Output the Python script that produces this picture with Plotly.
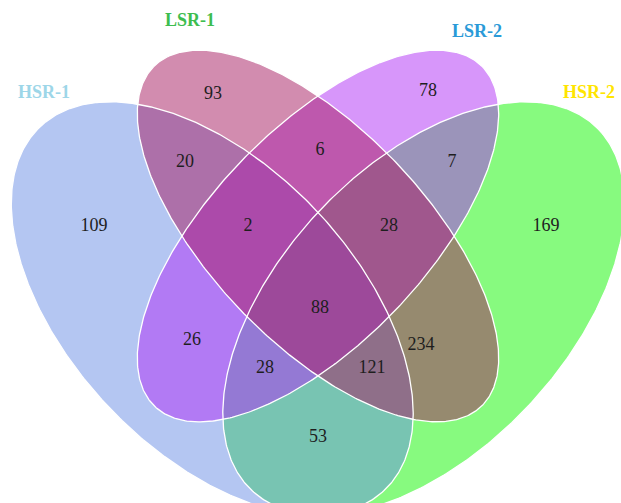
import numpy as np
import plotly.graph_objects as go

# Four sets and the size of every region of the Venn diagram
set_names = ["HSR-1", "LSR-1", "LSR-2", "HSR-2"]
region_keys = ["1000", "0100", "0010", "0001",
               "1100", "0110", "0011", "1010", "0101", "1001",
               "1110", "0111", "1011", "1101", "1111"]
region_counts = [109, 93, 78, 169,
                 20, 6, 7, 26, 234, 53,
                 2, 28, 28, 121, 88]

# ---- layout / styling ----
W, H = 621, 503
# classic four-ellipse layout in unit coordinates (y up): cx, cy, a, b, rotation
ellipse_unit = {
    "HSR-1": (0.35, 0.47, 0.35, 0.20, 135),
    "LSR-1": (0.50, 0.57, 0.33, 0.15, 135),
    "LSR-2": (0.50, 0.57, 0.33, 0.15, 45),
    "HSR-2": (0.65, 0.47, 0.35, 0.20, 45),
}
# unit square -> screen pixels
SX, SY = 705, 725
X_MID, Y_REF, Y_REF_UNIT = 318, 236, 0.57

fill_rgb = {
    "HSR-1": (105, 141, 229),
    "LSR-1": (165, 25, 95),
    "LSR-2": (175, 45, 245),
    "HSR-2": (15, 245, 0),
}
draw_order = ["HSR-2", "HSR-1", "LSR-2", "LSR-1"]
title_pos = {"HSR-1": (44, 93), "LSR-1": (190, 21), "LSR-2": (477, 32), "HSR-2": (589, 93)}
title_color = {"HSR-1": "#9dd6e8", "LSR-1": "#3dbd4f", "LSR-2": "#2a9ad8", "HSR-2": "#ffe500"}
count_pos = {
    "1000": (94, 226), "0100": (213, 94), "0010": (428, 91), "0001": (546, 226),
    "1100": (185, 162), "0110": (320, 150), "0011": (452, 162), "1010": (192, 340),
    "0101": (421, 345), "1001": (318, 437), "1110": (248, 226), "0111": (389, 226),
    "1011": (265, 368), "1101": (372, 368), "1111": (320, 308),
}


def ellipse_xy(cx, cy, a, b, deg, n=500):
    t = np.linspace(0, 2 * np.pi, n)
    th = np.deg2rad(deg)
    ux = cx + a * np.cos(th) * np.cos(t) - b * np.sin(th) * np.sin(t)
    uy = cy + a * np.sin(th) * np.cos(t) + b * np.cos(th) * np.sin(t)
    px = X_MID + SX * (ux - 0.5)
    py = Y_REF - SY * (uy - Y_REF_UNIT)
    return px, py


fig = go.Figure()

for name in draw_order:
    x, y = ellipse_xy(*ellipse_unit[name])
    r, g, b = fill_rgb[name]
    fig.add_trace(go.Scatter(x=x, y=y, mode="lines", fill="toself",
                             fillcolor=f"rgba({r},{g},{b},0.5)",
                             line=dict(width=0), hoverinfo="skip", showlegend=False))

for name in draw_order:
    x, y = ellipse_xy(*ellipse_unit[name])
    fig.add_trace(go.Scatter(x=x, y=y, mode="lines", line=dict(color="white", width=1.3),
                             hoverinfo="skip", showlegend=False))

fig.add_trace(go.Scatter(
    x=[count_pos[k][0] for k in region_keys],
    y=[count_pos[k][1] for k in region_keys],
    mode="text", text=[str(v) for v in region_counts],
    textfont=dict(family="Liberation Serif", size=18, color="#1e1e1e"),
    hoverinfo="skip", showlegend=False))

fig.add_trace(go.Scatter(
    x=[title_pos[s][0] for s in set_names],
    y=[title_pos[s][1] for s in set_names],
    mode="text", text=[f"<b>{s}</b>" for s in set_names],
    textfont=dict(family="Liberation Serif", size=18,
                  color=[title_color[s] for s in set_names]),
    hoverinfo="skip", showlegend=False))

fig.update_layout(
    width=W, height=H, margin=dict(l=0, r=0, t=0, b=0),
    paper_bgcolor="white", plot_bgcolor="white",
    xaxis=dict(range=[0, W], visible=False, fixedrange=True),
    yaxis=dict(range=[H, 0], visible=False, fixedrange=True),
)

fig.write_html("out.html")
